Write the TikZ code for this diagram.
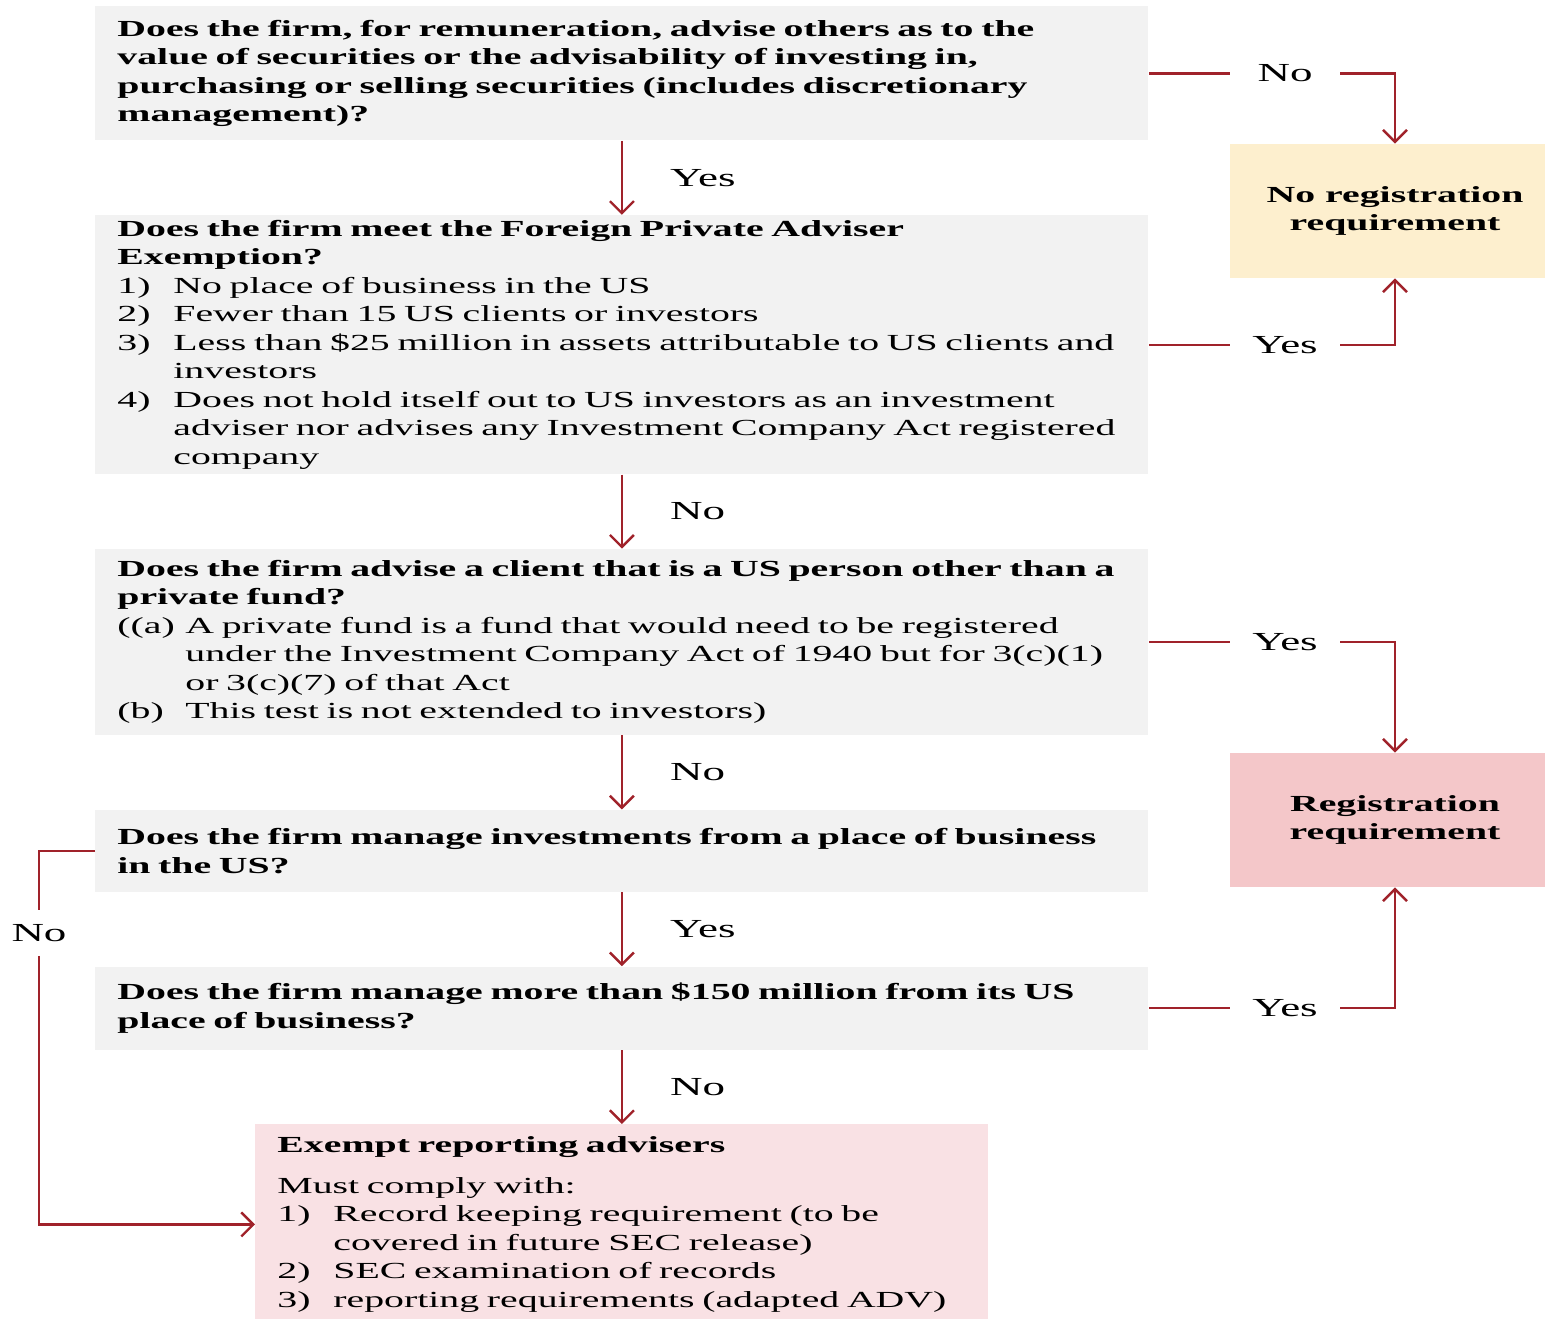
\documentclass[tikz,border=0pt]{standalone}
\usepackage{fontspec}
\setmainfont{Liberation Serif}[FakeStretch=1.73]
\usepackage{tikz}
\usetikzlibrary{positioning,arrows.meta}
\definecolor{qgray}{HTML}{F2F2F2}
\definecolor{noregyellow}{HTML}{FDEFCE}
\definecolor{regpink}{HTML}{F4C7C9}
\definecolor{exemptpink}{HTML}{F9E1E4}
\definecolor{linkred}{HTML}{A0222A}
\newcommand{\qitem}[3]{\par\hangindent=#1\hangafter=1\noindent\makebox[#1][l]{#2}#3\par}
\tikzstyle{question} = [rectangle, fill=qgray, text width=504.5pt,
    inner xsep=11pt, inner ysep=0pt, align=left]
\tikzstyle{exempt} = [rectangle, fill=exemptpink, text width=344.5pt,
    inner xsep=11pt, inner ysep=0pt, align=left]
\tikzstyle{outcome} = [rectangle, minimum width=165pt, minimum height=67pt,
    align=center, font=\fontsize{11.5}{14.25}\selectfont\bfseries]
\tikzstyle{wire} = [draw, linkred, line width=1.2pt]
\tikzstyle{line} = [wire, -{Straight Barb[length=6pt,width=12pt]}]
\tikzstyle{answer} = [inner sep=0pt, text=black, font=\fontsize{13}{15}\selectfont]
\tikzstyle{gap} = [answer, minimum width=55pt, minimum height=22.5pt]

\begin{document}
\begin{tikzpicture}[x=0.5pt, y=-0.5pt, font=\fontsize{11.5}{14.25}\selectfont]
    \clip (0,0) rectangle (1545,1318);
    % Place nodes
    \node [question, anchor=north west, minimum height=67pt] (q1) at (95,6)
        {\bfseries Does the firm, for remuneration, advise others as to the\\
        value of securities or the advisability of investing in,\\
        purchasing or selling securities (includes discretionary\\
        management)?};
    \node [question, below=37pt of q1, minimum height=129.5pt] (q2)
        {\textbf{Does the firm meet the Foreign Private Adviser\\ Exemption?}
        \qitem{28pt}{1)}{No place of business in the US}
        \qitem{28pt}{2)}{Fewer than 15 US clients or investors}
        \qitem{28pt}{3)}{Less than \$25 million in assets attributable to US clients and\newline investors}
        \qitem{28pt}{4)}{Does not hold itself out to US investors as an investment\newline
            adviser nor advises any Investment Company Act registered\newline company}};
    \node [question, below=37pt of q2, minimum height=93pt] (q3)
        {\textbf{Does the firm advise a client that is a US person other than a\\ private fund?}
        \qitem{34pt}{((a)}{A private fund is a fund that would need to be registered\newline
            under the Investment Company Act of 1940 but for 3(c)(1)\newline
            or 3(c)(7) of that Act}
        \qitem{34pt}{(b)}{This test is not extended to investors)}};
    \node [question, below=37pt of q3, minimum height=41pt] (q4)
        {\bfseries Does the firm manage investments from a place of business\\ in the US?};
    \node [question, below=37pt of q4, minimum height=41.5pt] (q5)
        {\bfseries Does the firm manage more than \$150 million from its US\\ place of business?};
    \node [exempt, below=37pt of q5, minimum height=100pt] (q6)
        {\textbf{Exempt reporting advisers}\\[6pt]
        Must comply with:
        \qitem{28pt}{1)}{Record keeping requirement (to be\newline covered in future SEC release)}
        \qitem{28pt}{2)}{SEC examination of records}
        \qitem{28pt}{3)}{reporting requirements (adapted ADV)}};

    \node [outcome, fill=noregyellow] (noreg) at (1395,211) {No registration\\ requirement};
    \node [outcome, fill=regpink] (reg) at (1395,820) {Registration\\ requirement};

    % Answer gaps
    \coordinate (ax) at (1285,0);
    \node [gap] (a1) at (q1.east -| ax) {No};
    \node [gap] (a2) at (q2.east -| ax) {Yes};
    \node [gap] (a3) at (q3.east -| ax) {Yes};
    \node [gap] (a5) at (q5.east -| ax) {Yes};
    \node [gap] (a4) at (39,933) {No};

    % Draw edges
    % Main chain
    \path [line] (q1) -- node[answer, right=23.5pt] {Yes} (q2);
    \path [line] (q2) -- node[answer, right=23.5pt] {No} (q3);
    \path [line] (q3) -- node[answer, right=23.5pt] {No} (q4);
    \path [line] (q4) -- node[answer, right=23.5pt] {Yes} (q5);
    \path [line] (q5) -- node[answer, right=23.5pt] {No} (q6);

    % Outcomes
    \path [wire] (q1.east) -- (a1);
    \path [line] (a1) -| (noreg.north);
    \path [wire] (q2.east) -- (a2);
    \path [line] (a2) -| (noreg.south);
    \path [wire] (q3.east) -- (a3);
    \path [line] (a3) -| (reg.north);
    \path [wire] (q5.east) -- (a5);
    \path [line] (a5) -| (reg.south);

    % Back to exempt advisers
    \path [wire] (q4.west) -| (a4);
    \path [line] (a4) |- (q6.west);
\end{tikzpicture}
\end{document}
